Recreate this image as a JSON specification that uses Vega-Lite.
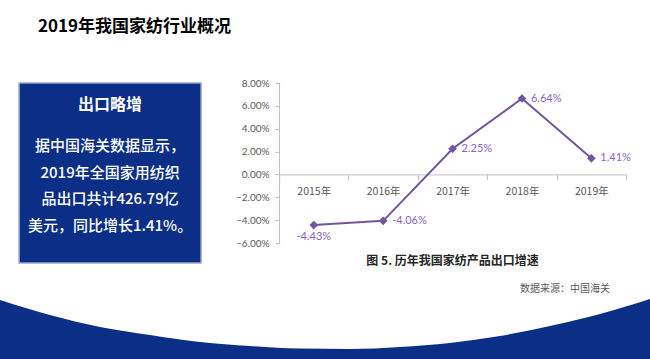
{
  "$schema": "https://vega.github.io/schema/vega-lite/v6.json",
  "padding": {"top": 18, "left": 0, "right": 0, "bottom": 0},
  "background": "white",
  "config": {"view": {"stroke": null}, "font": "Noto Sans CJK SC"},
  "title": {"text": "2019年我国家纺行业概况", "anchor": "start", "frame": "group", "fontSize": 17, "fontWeight": "bold", "color": "#000000", "font": "Noto Sans CJK SC", "dx": 38, "offset": 42},
  "center": true,
  "spacing": 17,
  "datasets": {
    "growth": [
      {"year": "2015年", "value": -0.0443, "label": "-4.43%"},
      {"year": "2016年", "value": -0.0406, "label": "-4.06%"},
      {"year": "2017年", "value": 0.0225, "label": "2.25%"},
      {"year": "2018年", "value": 0.0664, "label": "6.64%"},
      {"year": "2019年", "value": 0.0141, "label": "1.41%"}
    ],
    "boxtext": [
      {"row": "1", "text": "据中国海关数据显示，"},
      {"row": "2", "text": "2019年全国家用纺织"},
      {"row": "3", "text": "品出口共计426.79亿"},
      {"row": "4", "text": "美元，同比增长1.41%。"}
    ],
    "swoosh": [
      {"x": 0, "h": 61}, {"x": 50, "h": 46}, {"x": 100, "h": 34}, {"x": 150, "h": 26},
      {"x": 200, "h": 19}, {"x": 250, "h": 15}, {"x": 300, "h": 12.5}, {"x": 350, "h": 12},
      {"x": 400, "h": 14}, {"x": 450, "h": 18}, {"x": 500, "h": 25}, {"x": 550, "h": 35},
      {"x": 600, "h": 47}, {"x": 650, "h": 62}
    ]
  },
  "vconcat": [
    {
      "spacing": 33,
      "hconcat": [
        {
          "width": 182,
          "height": 180,
          "view": {"fill": "#0b2e87", "stroke": "#9aa6cf", "strokeWidth": 1.5},
          "title": {"text": "出口略增", "orient": "top", "anchor": "middle", "color": "#ffffff", "fontSize": 16, "fontWeight": "bold", "font": "Noto Sans CJK SC", "offset": -30},
          "data": {"name": "boxtext"},
          "mark": {"type": "text", "color": "#ffffff", "fontSize": 15, "fontWeight": 500, "font": "Noto Sans CJK SC", "baseline": "middle", "align": "center"},
          "encoding": {
            "y": {"field": "row", "type": "ordinal", "axis": null, "scale": {"type": "point", "domain": ["t1", "t2", "1", "2", "3", "4", "b1"], "padding": 0.37, "align": 0.48}},
            "text": {"field": "text"}
          }
        },
        {
          "width": 347,
          "height": 160,
          "title": {"text": "图 5. 历年我国家纺产品出口增速", "orient": "bottom", "anchor": "middle", "fontSize": 12, "fontWeight": "bold", "font": "Noto Sans CJK SC", "color": "#262626", "offset": 8},
          "data": {"name": "growth"},
          "encoding": {
            "x": {"field": "year", "type": "ordinal", "scale": {"type": "band", "paddingInner": 0, "paddingOuter": 0},
              "axis": {"title": null, "orient": "bottom", "offset": -68.57, "labelAngle": 0, "tickBand": "extent", "tickSize": 5, "tickColor": "#bfbfbf", "domainColor": "#bfbfbf", "labelColor": "#595959", "labelFontSize": 10.5, "labelFont": "Noto Sans CJK SC", "labelPadding": 7}},
            "y": {"field": "value", "type": "quantitative", "scale": {"domain": [-0.06, 0.08], "nice": false, "zero": false},
              "axis": {"title": null, "values": [-0.06, -0.04, -0.02, 0, 0.02, 0.04, 0.06, 0.08], "format": ".2%", "grid": false, "tickSize": 4, "tickColor": "#bfbfbf", "domainColor": "#bfbfbf", "labelColor": "#595959", "labelFontSize": 10, "labelFont": "Lato", "labelPadding": 6}}
          },
          "layer": [
            {"mark": {"type": "line", "color": "#7354a3", "strokeWidth": 2}},
            {"mark": {"type": "point", "shape": "diamond", "filled": true, "size": 75, "color": "#7354a3", "opacity": 1}},
            {
              "transform": [{"filter": "datum.year !== '2015年'"}],
              "mark": {"type": "text", "align": "left", "baseline": "middle", "dx": 9, "color": "#8a63c2", "fontSize": 11, "font": "Lato"},
              "encoding": {"text": {"field": "label"}}
            },
            {
              "transform": [{"filter": "datum.year === '2015年'"}],
              "mark": {"type": "text", "align": "center", "baseline": "middle", "dy": 12, "color": "#8a63c2", "fontSize": 11, "font": "Lato"},
              "encoding": {"text": {"field": "label"}}
            }
          ]
        }
      ]
    },
    {
      "width": 650,
      "height": 62,
      "title": {"text": "数据来源：中国海关", "orient": "top", "anchor": "end", "fontSize": 10, "fontWeight": "normal", "font": "Noto Sans CJK SC", "color": "#595959", "dx": -40, "offset": 5},
      "data": {"name": "swoosh"},
      "mark": {"type": "area", "color": "#0b2f87", "interpolate": "monotone"},
      "encoding": {
        "x": {"field": "x", "type": "quantitative", "axis": null, "scale": {"domain": [0, 650], "nice": false, "zero": false}},
        "y": {"field": "h", "type": "quantitative", "axis": null, "scale": {"domain": [0, 62], "nice": false}}
      }
    }
  ]
}
